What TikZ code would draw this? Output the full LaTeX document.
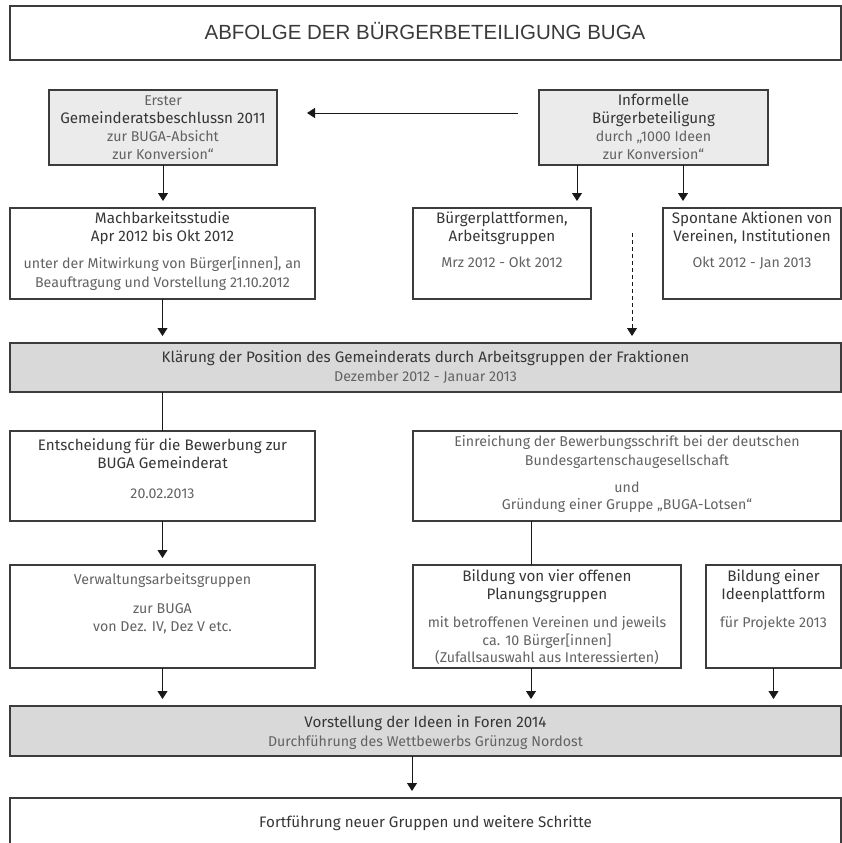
\documentclass[tikz,border=0pt]{standalone}
\usepackage{fontspec}
\usetikzlibrary{arrows.meta}
\setmainfont{Fira Sans}
\newfontfamily\medfont{Fira Sans}
\newfontfamily\lightfont{Fira Sans}
\newfontfamily\titlefont{Liberation Sans}

\definecolor{edge}{HTML}{3C3C3C}
\definecolor{lightfill}{HTML}{EBEBEB}
\definecolor{barfill}{HTML}{D9D9D9}
\definecolor{headc}{HTML}{363636}
\definecolor{lightc}{HTML}{626262}
\definecolor{titlec}{HTML}{3A3A3A}

% box: style, name, left, top, width, height
\newcommand\boxat[6]{\node[#1, minimum width=#5pt, minimum height=#6pt] (#2) at (#3,#4) {};}
% text line: name, x, baseline y, style, text
\newcommand\txtln[5]{\node[#4] (#1) at (#2,#3) {#5};}

\tikzset{
  frame/.style={draw=edge, line width=1.1pt, inner sep=0pt, outer sep=0pt, anchor=north west},
  pale/.style={frame, fill=lightfill},
  bar/.style={frame, fill=barfill},
  link/.style={draw=black!90, line width=0.9pt},
  arr/.style={link, -{Triangle[width=10pt,length=8pt]}, shorten >=7pt},
  hd/.style={anchor=base, inner sep=0pt, text=headc, font=\medfont\fontsize{15.2}{18}\selectfont},
  lt/.style={anchor=base, inner sep=0pt, text=lightc, font=\lightfont\fontsize{14.2}{17}\selectfont},
  ttl/.style={anchor=base, inner sep=0pt, text=titlec, font=\titlefont\fontsize{20.5}{24}\selectfont},
}

\begin{document}
\begin{tikzpicture}[x=1pt, y=-1pt]
\useasboundingbox (0,0) rectangle (842,843);

% boxes
\boxat{frame}{title}{10}{6}{831}{54}
\boxat{pale}{erster}{49}{90}{228}{75}
\boxat{pale}{inform}{539}{90}{229}{75}
\boxat{frame}{mach}{10}{208}{305}{91}
\boxat{frame}{plat}{413}{208}{178}{91}
\boxat{frame}{spont}{663}{208}{178}{91}
\boxat{bar}{klar}{10}{343}{831}{49}
\boxat{frame}{entsch}{10}{431}{305}{90}
\boxat{frame}{einr}{413}{431}{428}{90}
\boxat{frame}{verw}{10}{565}{305}{103}
\boxat{frame}{bvier}{413}{565}{268}{103}
\boxat{frame}{bein}{706}{565}{135}{103}
\boxat{bar}{vorst}{10}{706}{831}{50}
\boxat{frame}{fort}{10}{798}{831}{80}

% texts
\txtln{t0}{425}{40}{ttl}{ABFOLGE DER BÜRGERBETEILIGUNG BUGA}

\txtln{e1}{163}{105.3}{lt}{Erster}
\txtln{e2}{163}{123.5}{hd}{Gemeinderatsbeschlussn 2011}
\txtln{e3}{163}{141.3}{lt}{zur BUGA-Absicht}
\txtln{e4}{163}{159.3}{lt}{zur Konversion“}

\txtln{i1}{653.5}{105.5}{hd}{Informelle}
\txtln{i2}{653.5}{123.5}{hd}{Bürgerbeteiligung}
\txtln{i3}{653.5}{141.3}{lt}{durch „1000 Ideen}
\txtln{i4}{653.5}{159.3}{lt}{zur Konversion“}

\txtln{m1}{162.5}{223.5}{hd}{Machbarkeitsstudie}
\txtln{m2}{162.5}{241.5}{hd}{Apr 2012 bis Okt 2012}
\txtln{m3}{162.5}{268.3}{lt}{unter der Mitwirkung von Bürger[innen], an}
\txtln{m4}{162.5}{287.3}{lt}{Beauftragung und Vorstellung 21.10.2012}

\txtln{p1}{502}{223.5}{hd}{Bürgerplattformen,}
\txtln{p2}{502}{241.5}{hd}{Arbeitsgruppen}
\txtln{p3}{502}{267.3}{lt}{Mrz 2012 - Okt 2012}

\txtln{s1}{752}{223.5}{hd}{Spontane Aktionen von}
\txtln{s2}{752}{241.5}{hd}{Vereinen, Institutionen}
\txtln{s3}{752}{267.3}{lt}{Okt 2012 - Jan 2013}

\txtln{k1}{425.5}{362.5}{hd}{Klärung der Position des Gemeinderats durch Arbeitsgruppen der Fraktionen}
\txtln{k2}{425.5}{381.3}{lt}{Dezember 2012 - Januar 2013}

\txtln{d1}{162.5}{450.5}{hd}{Entscheidung für die Bewerbung zur}
\txtln{d2}{162.5}{468.5}{hd}{BUGA Gemeinderat}
\txtln{d3}{162.5}{498.3}{lt}{20.02.2013}

\txtln{r1}{627}{446.3}{lt}{Einreichung der Bewerbungsschrift bei der deutschen}
\txtln{r2}{627}{465.3}{lt}{Bundesgartenschaugesellschaft}
\txtln{r3}{627}{492.3}{lt}{und}
\txtln{r4}{627}{509.3}{lt}{Gründung einer Gruppe „BUGA-Lotsen“}

\txtln{w1}{162.5}{584.3}{lt}{Verwaltungsarbeitsgruppen}
\txtln{w2}{162.5}{613.3}{lt}{zur BUGA}
\txtln{w3}{162.5}{631.3}{lt}{von Dez. IV, Dez V etc.}

\txtln{b1}{547}{581.5}{hd}{Bildung von vier offenen}
\txtln{b2}{547}{599.5}{hd}{Planungsgruppen}
\txtln{b3}{547}{627.3}{lt}{mit betroffenen Vereinen und jeweils}
\txtln{b4}{547}{645.3}{lt}{ca. 10 Bürger[innen]}
\txtln{b5}{547}{662.3}{lt}{(Zufallsauswahl aus Interessierten)}

\txtln{n1}{773.5}{581.5}{hd}{Bildung einer}
\txtln{n2}{773.5}{599.5}{hd}{Ideenplattform}
\txtln{n3}{773.5}{627.3}{lt}{für Projekte 2013}

\txtln{v1}{425.5}{727.5}{hd}{Vorstellung der Ideen in Foren 2014}
\txtln{v2}{425.5}{746.3}{lt}{Durchführung des Wettbewerbs Grünzug Nordost}

\txtln{f1}{425.5}{827.5}{hd}{Fortführung neuer Gruppen und weitere Schritte}

% connectors
\draw[arr, shorten >=30pt, shorten <=21pt] ([yshift=14.5pt]inform.west) -- ([yshift=14.5pt]erster.east);
\draw[arr] (erster.south) -- (erster.south |- mach.north);
\coordinate (ia) at ([xshift=-76.5pt]inform.south);
\coordinate (ib) at ([xshift=29.5pt]inform.south);
\draw[arr] (ia) -- (ia |- plat.north);
\draw[arr] (ib) -- (ib |- spont.north);
\coordinate (dstart) at (632,233);
\draw[arr, dash pattern=on 4pt off 3pt] (dstart) -- (dstart |- klar.north);
\draw[arr] (mach.south) -- (mach.south |- klar.north);
\draw[link] (entsch.north |- klar.south) -- (entsch.north);
\draw[arr] (entsch.south) -- (verw.north);
\coordinate (ea) at ([xshift=-96pt]einr.south);
\draw[link] (ea) -- (ea |- bvier.north);
\draw[arr] (verw.south) -- (verw.south |- vorst.north);
\coordinate (ba) at ([xshift=-16pt]bvier.south);
\draw[arr] (ba) -- (ba |- vorst.north);
\draw[arr] (bein.south) -- (bein.south |- vorst.north);
\coordinate (va) at ([xshift=-13.5pt]vorst.south);
\draw[arr] (va) -- (va |- fort.north);
\end{tikzpicture}
\end{document}
